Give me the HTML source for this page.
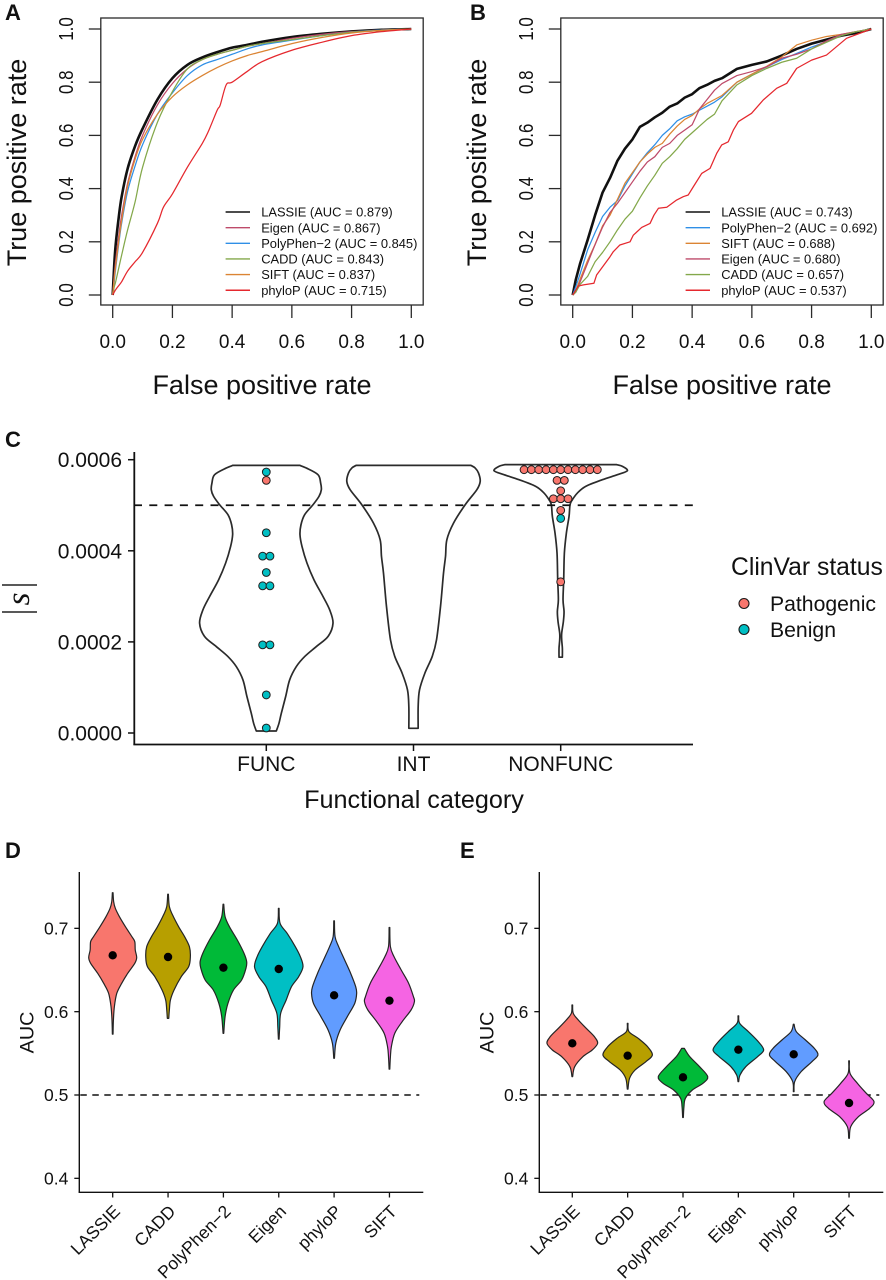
<!DOCTYPE html>
<html lang="en">
<head>
<meta charset="utf-8">
<title>Variant effect prediction ROC and AUC panels</title>
<style>
html,body{margin:0;padding:0;background:#fff;width:886px;height:1280px;overflow:hidden}
svg{display:block;font-family:"Liberation Sans",sans-serif;fill:#111}
</style>
</head>
<body>
<svg id="figure" width="886" height="1280" viewBox="0 0 886 1280" xmlns="http://www.w3.org/2000/svg">
  <text x="5" y="20" font-size="22" font-weight="bold">A</text>
  <text x="470" y="20" font-size="22" font-weight="bold">B</text>
  <text x="5" y="447" font-size="22" font-weight="bold">C</text>
  <text x="5" y="858" font-size="22" font-weight="bold">D</text>
  <text x="460" y="858" font-size="22" font-weight="bold">E</text>

  <text x="262" y="394" font-size="27" text-anchor="middle">False positive rate</text>
  <text transform="translate(26,162.5) rotate(-90)" font-size="27" text-anchor="middle">True positive rate</text>
  <text x="722" y="394" font-size="27" text-anchor="middle">False positive rate</text>
  <text transform="translate(486,162.5) rotate(-90)" font-size="27" text-anchor="middle">True positive rate</text>

  <text x="414" y="808" font-size="25.2" text-anchor="middle">Functional category</text>
  <g>
    <line x1="2" x2="37" y1="585" y2="585" stroke="#222" stroke-width="1.5"/>
    <line x1="2" x2="37" y1="612" y2="612" stroke="#222" stroke-width="1.5"/>
    <text transform="translate(29,599) rotate(-90)" font-family="'Liberation Serif',serif" font-style="italic" font-size="33" text-anchor="middle">s</text>
  </g>
  <text x="731" y="575" font-size="24.7">ClinVar status</text>
  <circle cx="744" cy="603.5" r="5" fill="#F8766D" stroke="#1a1a1a" stroke-width="1.1"/>
  <text x="770" y="611" font-size="21.2">Pathogenic</text>
  <circle cx="744" cy="629.5" r="5" fill="#00BFC4" stroke="#1a1a1a" stroke-width="1.1"/>
  <text x="770" y="637" font-size="21.2">Benign</text>

  <text transform="translate(33.5,1032.5) rotate(-90)" font-size="19.8" text-anchor="middle">AUC</text>
  <text transform="translate(493.5,1032.5) rotate(-90)" font-size="19.8" text-anchor="middle">AUC</text>
</svg>

<script>
/* ---------- Panel A data ---------- */
const rocTicks = [0, 0.2, 0.4, 0.6, 0.8, 1];
const rocTickLabels = ['0.0', '0.2', '0.4', '0.6', '0.8', '1.0'];
const fprA = [0,.005,.01,.02,.03,.05,.075,.1,.15,.2,.25,.3,.35,.4,.45,.5,.6,.7,.8,.9,1];
const tprALassie = [0,.11,.19,.29,.37,.475,.56,.625,.735,.815,.865,.893,.913,.93,.94,.952,.97,.982,.991,.997,1];
const tprAEigen = [0,.07,.13,.22,.30,.42,.52,.60,.715,.795,.85,.885,.905,.92,.935,.945,.965,.98,.99,.996,1];
const tprAPolyPhen = [0,.05,.10,.19,.27,.39,.485,.565,.68,.76,.825,.865,.885,.905,.925,.94,.958,.975,.988,.996,1];
const tprACadd = [0,.03,.05,.10,.15,.245,.35,.48,.65,.765,.85,.885,.905,.92,.935,.945,.96,.975,.988,.995,1];
const tprASift = [0,.06,.11,.20,.28,.41,.51,.585,.68,.745,.79,.825,.855,.88,.90,.915,.945,.968,.985,.995,1];
const fprAPhyloP = [0,.01,.02,.03,.05,.075,.1,.15,.17,.2,.25,.3,.32,.35,.36,.38,.4,.45,.5,.6,.7,.8,.9,1];
const tprAPhyloP = [0,.02,.035,.05,.09,.125,.16,.27,.33,.38,.48,.57,.614,.695,.714,.79,.80,.84,.877,.92,.95,.975,.99,1];
const legendALabels = ['LASSIE (AUC = 0.879)', 'Eigen (AUC = 0.867)', 'PolyPhen\u22122 (AUC = 0.845)', 'CADD (AUC = 0.843)', 'SIFT (AUC = 0.837)', 'phyloP (AUC = 0.715)'];

/* ---------- Panel B data ---------- */
const fprB = [0,.01,.025,.05,.075,.1,.125,.15,.175,.2,.225,.25,.275,.3,.325,.35,.375,.4,.425,.45,.475,.5,.55,.6,.65,.7,.75,.8,.85,.9,.95,1];
const tprBLassie = [0,.056,.119,.207,.30,.385,.44,.505,.55,.585,.632,.648,.668,.685,.708,.72,.742,.755,.778,.79,.805,.815,.85,.865,.878,.9,.925,.945,.96,.975,.985,1];
const tprBPolyPhen = [0,.03,.08,.17,.235,.295,.33,.355,.41,.455,.50,.535,.565,.60,.625,.655,.67,.68,.695,.71,.725,.745,.80,.83,.858,.885,.908,.932,.952,.978,.99,1];
const tprBSift = [0,.015,.06,.13,.19,.26,.30,.36,.42,.46,.50,.53,.555,.57,.605,.635,.66,.675,.70,.72,.735,.75,.80,.83,.86,.895,.94,.958,.972,.98,.99,1];
const tprBEigen = [0,.01,.05,.12,.19,.255,.31,.345,.385,.425,.465,.50,.52,.555,.57,.60,.62,.64,.70,.735,.77,.795,.825,.84,.858,.89,.905,.925,.955,.98,.99,1];
const tprBCadd = [0,.01,.04,.07,.125,.16,.20,.245,.285,.315,.365,.41,.45,.495,.52,.55,.585,.61,.635,.66,.68,.73,.79,.825,.852,.875,.89,.925,.95,.975,.99,1];
const fprBPhyloP = [0,.019,.036,.071,.08,.125,.136,.158,.192,.203,.231,.259,.272,.287,.315,.348,.371,.387,.404,.432,.46,.482,.499,.521,.538,.555,.599,.638,.683,.717,.75,.80,.85,.917,.962,1];
const tprBPhyloP = [0,.034,.038,.044,.075,.144,.163,.188,.2,.225,.254,.269,.30,.326,.33,.357,.37,.376,.407,.457,.476,.532,.564,.576,.62,.652,.683,.733,.777,.796,.852,.883,.902,.965,.984,1];
const legendBLabels = ['LASSIE (AUC = 0.743)', 'PolyPhen\u22122 (AUC = 0.692)', 'SIFT (AUC = 0.688)', 'Eigen (AUC = 0.680)', 'CADD (AUC = 0.657)', 'phyloP (AUC = 0.537)'];

/* ---------- Panel C data (|s| values in units of 1e-4) ---------- */
const cCategories = ['FUNC', 'INT', 'NONFUNC'];
const cTicks = [0, 2, 4, 6];
const cTickLabels = ['0.0000', '0.0002', '0.0004', '0.0006'];
const cThreshold = 5;
const funcS = [5.876,5.817,5.671,5.488,5.341,5.195,5.011,4.792,4.572,4.352,4.096,3.729,3.363,2.997,2.704,2.411,2.118,1.898,1.678,1.458,1.165,.799,.433,.213,.044];
const funcDensity = [.5,.6,.775,.815,.825,.79,.7,.575,.52,.505,.535,.61,.715,.85,.95,1,.925,.75,.575,.45,.35,.29,.225,.19,.15];
const intS = [5.876,5.817,5.707,5.524,5.341,5.011,4.608,4.242,3.876,3.51,2.777,2.044,1.678,1.312,.945,.579,.103];
const intDensity = [.86,.925,.975,1,.95,.775,.6,.5,.48,.45,.405,.345,.28,.17,.09,.07,.07];
const nonfuncS = [5.891,5.854,5.759,5.671,5.561,5.414,5.268,5.121,5.011,4.755,4.389,3.949,3.363,2.923,2.667,2.447,2.191,2.044,1.861,1.664];
const nonfuncDensity = [.84,.925,1,.85,.625,.375,.25,.175,.14,.125,.085,.055,.045,.035,.05,.04,.015,.015,.025,.025];
const funcDotS = [5.729,5.546,4.396,3.883,3.883,3.524,3.231,3.231,1.934,1.934,.836,.11];
const funcDotStatus = ['B','P','B','B','B','B','B','B','B','B','B','B'];
const nonfuncDotS = [5.781,5.781,5.781,5.781,5.781,5.781,5.781,5.781,5.781,5.781,5.781,5.546,5.546,5.319,5.143,5.143,5.143,4.887,4.711,3.319];
const nonfuncDotStatus = ['P','P','P','P','P','P','P','P','P','P','P','P','P','P','P','P','P','P','B','P'];

/* ---------- Panels D / E data ---------- */
const aucCategories = ['LASSIE', 'CADD', 'PolyPhen\u22122', 'Eigen', 'phyloP', 'SIFT'];
const aucTicks = [0.4, 0.5, 0.6, 0.7];
const aucTickLabels = ['0.4', '0.5', '0.6', '0.7'];
const aucReference = 0.5;
const dMeans = [.6676,.6656,.6528,.6512,.6196,.6132];
const dAuc = [
  [.7428,.732,.724,.714,.702,.690,.684,.674,.665,.658,.646,.634,.622,.606,.590,.573],
  [.741,.726,.716,.702,.690,.678,.666,.654,.642,.626,.614,.602,.592],
  [.729,.714,.702,.686,.670,.660,.652,.638,.626,.610,.594,.574],
  [.724,.706,.694,.678,.666,.654,.642,.630,.614,.598,.582,.567],
  [.709,.690,.678,.662,.646,.630,.622,.610,.594,.578,.562,.544],
  [.701,.678,.666,.650,.634,.618,.612,.602,.588,.574,.558,.546,.531]
];
const dDensity = [
  [.014,.04,.11,.28,.53,.8,.92,.94,1,.92,.625,.375,.17,.07,.03,.014],
  [.014,.055,.19,.44,.69,.89,.93,.86,.55,.25,.1,.055,.03],
  [.014,.07,.25,.58,.86,.97,.94,.76,.42,.19,.07,.014],
  [.014,.055,.35,.69,.9,1.01,.83,.53,.31,.08,.04,.014],
  [.014,.04,.19,.44,.69,.9,.94,.86,.55,.25,.07,.014],
  [.014,.04,.19,.49,.8,1,1.04,.9,.53,.22,.08,.04,.014]
];
const eMeans = [.562,.5472,.5212,.5544,.5488,.4904];
const eAuc = [
  [.608,.598,.590,.580,.570,.562,.554,.546,.534,.522],
  [.586,.576,.568,.558,.548,.54,.53,.52,.507],
  [.556,.546,.534,.522,.514,.506,.496,.486,.473],
  [.595,.586,.576,.564,.554,.546,.534,.524,.516],
  [.585,.576,.566,.556,.548,.540,.528,.516,.504],
  [.541,.526,.514,.502,.492,.484,.474,.462,.448]
];
const eDensity = [
  [.014,.04,.25,.58,.92,1.055,.83,.44,.1,.014],
  [.014,.055,.44,.83,1.03,.76,.31,.08,.014],
  [.055,.28,.69,1.03,.83,.39,.1,.04,.014],
  [.014,.055,.42,.83,1.055,.8,.31,.07,.014],
  [.014,.11,.49,.86,1.01,.76,.31,.04,.014],
  [.014,.04,.35,.72,1.04,.86,.39,.07,.014]
];

/* ---------- Styles ---------- */
const rocColorA = ['#111111', '#BE4A6A', '#2F8FE6', '#83A84A', '#DB8433', '#E5282E'];
const rocColorB = ['#111111', '#2F8FE6', '#DB8433', '#BE4A6A', '#83A84A', '#E5282E'];
const violinFill = ['#F8766D', '#B79F00', '#00BA38', '#00BFC4', '#619CFF', '#F564E3'];
const dotFill = { P: '#F8766D', B: '#00BFC4' };
const svgNS = 'http://www.w3.org/2000/svg';
const root = document.getElementById('figure');

function mk(tag, attrs, parent) {
  const node = document.createElementNS(svgNS, tag);
  for (const k in attrs) node.setAttribute(k, attrs[k]);
  (parent || root).appendChild(node);
  return node;
}
function smoothPath(pts, move) {
  let d = (move ? 'M' : 'L') + pts[0][0].toFixed(2) + ' ' + pts[0][1].toFixed(2);
  for (let i = 0; i < pts.length - 1; i++) {
    const p0 = pts[Math.max(i - 1, 0)], p1 = pts[i], p2 = pts[i + 1], p3 = pts[Math.min(i + 2, pts.length - 1)];
    const c1x = p1[0] + (p2[0] - p0[0]) / 6, c1y = p1[1] + (p2[1] - p0[1]) / 6;
    const c2x = p2[0] - (p3[0] - p1[0]) / 6, c2y = p2[1] - (p3[1] - p1[1]) / 6;
    d += 'C' + c1x.toFixed(2) + ' ' + c1y.toFixed(2) + ' ' + c2x.toFixed(2) + ' ' + c2y.toFixed(2) + ' ' + p2[0].toFixed(2) + ' ' + p2[1].toFixed(2);
  }
  return d;
}
function slug(s) {
  return s.toLowerCase().replace(/[^a-z0-9]+/g, '-').replace(/-+$/, '');
}

/* ---------- ROC panels ---------- */
function drawRoc(id, left, fprs, series, colors, labels, smooth) {
  const x = v => left + 11.9 + v * 298.6;
  const y = v => 295 - v * 266;
  const g = mk('g', {});
  
  
  const box = mk('rect', { x: left, y: 18, width: 322.4, height: 287, fill: 'none', stroke: '#2a2a2a', 'stroke-width': 1.3 }, g);
  
  
  rocTicks.forEach((t, i) => {
    const tx = mk('line', { x1: x(t), x2: x(t), y1: 305, y2: 318, stroke: '#2a2a2a', 'stroke-width': 1.3 }, g);
    
    
    const lx = mk('text', { x: x(t), y: 348, 'font-size': 19, 'text-anchor': 'middle' }, g);
    lx.textContent = rocTickLabels[i];
    
    
    const ty = mk('line', { x1: left - 12, x2: left, y1: y(t), y2: y(t), stroke: '#2a2a2a', 'stroke-width': 1.3 }, g);
    
    
    const ly = mk('text', { transform: 'translate(' + (left - 28) + ',' + y(t) + ') rotate(-90)', 'font-size': 20, 'text-anchor': 'middle', textLength: 23.5, lengthAdjust: 'spacingAndGlyphs' }, g);
    ly.textContent = rocTickLabels[i];
    
    
  });
  series.forEach((tpr, s) => {
    const fpr = fprs[s];
    const pts = tpr.map((v, i) => [x(fpr[i]), y(v)]);
    const d = smooth ? smoothPath(pts, true) : 'M' + pts.map(p => p[0].toFixed(2) + ' ' + p[1].toFixed(2)).join('L');
    const line = mk('path', { d: d, fill: 'none', stroke: colors[s], 'stroke-width': s === 0 ? 2.6 : 1.25, 'stroke-linejoin': 'round' }, g);
    
    
  });
  labels.forEach((text, i) => {
    const ly = 212 + i * 15.65;
    const key = mk('line', { x1: left + 124.8, x2: left + 149.2, y1: ly, y2: ly, stroke: colors[i], 'stroke-width': 1.4 }, g);
    
    
    const lab = mk('text', { x: left + 160.4, y: ly + 4.6, 'font-size': 12.9 }, g);
    lab.textContent = text;
    
    
  });
}
drawRoc('a', 100.8, [fprA, fprA, fprA, fprA, fprA, fprAPhyloP], [tprALassie, tprAEigen, tprAPolyPhen, tprACadd, tprASift, tprAPhyloP], rocColorA, legendALabels, true);
drawRoc('b', 560.8, [fprB, fprB, fprB, fprB, fprB, fprBPhyloP], [tprBLassie, tprBPolyPhen, tprBSift, tprBEigen, tprBCadd, tprBPhyloP], rocColorB, legendBLabels, false);

/* ---------- Panel C ---------- */
(function () {
  const x = i => 266.3 + i * 147.2;
  const y = v => 733 - v * 45.55;
  const widthScale = 66.7;
  const g = mk('g', {});
  
  

  const sets = [[funcS, funcDensity], [intS, intDensity], [nonfuncS, nonfuncDensity]];
  sets.forEach((set, c) => {
    const right = set[0].map((v, i) => [x(c) + set[1][i] * widthScale, y(v)]);
    const left = set[0].map((v, i) => [x(c) - set[1][i] * widthScale, y(v)]).reverse();
    const v = mk('path', { d: smoothPath(right, true) + smoothPath(left, false) + 'Z', fill: '#fff', stroke: '#2b2b2b', 'stroke-width': 1.7, 'stroke-linejoin': 'round' }, g);
    
    
  });

  const dash = mk('line', { x1: 134, x2: 695, y1: y(cThreshold), y2: y(cThreshold), stroke: '#111', 'stroke-width': 1.8, 'stroke-dasharray': '8 7.3' }, g);
  
  

  function drawDots(cat, values, status) {
    const counts = {};
    values.forEach(v => { counts[v] = (counts[v] || 0) + 1; });
    const seen = {};
    values.forEach((v, i) => {
      seen[v] = (seen[v] || 0) + 1;
      const off = (seen[v] - 1 - (counts[v] - 1) / 2) * 7.33;
      const d = mk('circle', { cx: x(cat) + off, cy: y(v), r: 3.9, fill: dotFill[status[i]], stroke: '#1f1f1f', 'stroke-width': 1 }, g);
      
      
    });
  }
  drawDots(0, funcDotS, funcDotStatus);
  drawDots(2, nonfuncDotS, nonfuncDotStatus);

  const axisY = mk('line', { x1: 134.3, x2: 134.3, y1: 452, y2: 745, stroke: '#111', 'stroke-width': 1.8 }, g);
  
  
  const axisX = mk('line', { x1: 133.4, x2: 693, y1: 744.5, y2: 744.5, stroke: '#111', 'stroke-width': 1.8 }, g);
  
  

  cTicks.forEach((t, i) => {
    const tk = mk('line', { x1: 128, x2: 134, y1: y(t), y2: y(t), stroke: '#111', 'stroke-width': 1.5 }, g);
    
    
    const lb = mk('text', { x: 122, y: y(t) + 7.5, 'font-size': 21, 'text-anchor': 'end' }, g);
    lb.textContent = cTickLabels[i];
    
    
  });
  cCategories.forEach((name, i) => {
    const tk = mk('line', { x1: x(i), x2: x(i), y1: 745, y2: 751, stroke: '#111', 'stroke-width': 1.5 }, g);
    
    
    const lb = mk('text', { x: x(i), y: 771, 'font-size': 21, 'text-anchor': 'middle' }, g);
    lb.textContent = name;
    
    
  });
})();

/* ---------- Panels D and E ---------- */
function drawAuc(id, axisLeft, firstCat, aucSets, densitySets, means) {
  const x = i => firstCat + i * 55.35;
  const y = v => 1095 - (v - 0.5) * 833.3;
  const widthScale = 24;
  const g = mk('g', {});
  
  

  const dash = mk('line', { x1: axisLeft + 1, x2: axisLeft + 340, y1: y(aucReference), y2: y(aucReference), stroke: '#111', 'stroke-width': 1.4, 'stroke-dasharray': '6.5 5.5' }, g);
  
  

  aucSets.forEach((set, c) => {
    const right = set.map((v, i) => [x(c) + densitySets[c][i] * widthScale, y(v)]);
    const left = set.map((v, i) => [x(c) - densitySets[c][i] * widthScale, y(v)]).reverse();
    const vio = mk('path', { d: smoothPath(right, true) + smoothPath(left, false) + 'Z', fill: violinFill[c], stroke: '#252525', 'stroke-width': 1.2, 'stroke-linejoin': 'round' }, g);
    
    
    const m = mk('circle', { cx: x(c), cy: y(means[c]), r: 4.2, fill: '#000' }, g);
    
    
  });

  const axisY = mk('line', { x1: axisLeft, x2: axisLeft, y1: 872, y2: 1192.5, stroke: '#111', 'stroke-width': 1.4 }, g);
  
  
  const axisX = mk('line', { x1: axisLeft - 0.7, x2: axisLeft + 344, y1: 1192.3, y2: 1192.3, stroke: '#111', 'stroke-width': 1.4 }, g);
  
  

  aucTicks.forEach((t, i) => {
    const tk = mk('line', { x1: axisLeft - 5, x2: axisLeft, y1: y(t), y2: y(t), stroke: '#111', 'stroke-width': 1.3 }, g);
    
    
    const lb = mk('text', { x: axisLeft - 11, y: y(t) + 6.2, 'font-size': 17.5, 'text-anchor': 'end' }, g);
    lb.textContent = aucTickLabels[i];
    
    
  });
  aucCategories.forEach((name, i) => {
    const tk = mk('line', { x1: x(i), x2: x(i), y1: 1192, y2: 1197.5, stroke: '#111', 'stroke-width': 1.3 }, g);
    
    
    const lb = mk('text', { transform: 'translate(' + (x(i) + 8.5) + ',1212.5) rotate(-45)', 'font-size': 17.5, 'text-anchor': 'end' }, g);
    lb.textContent = name;
    
    
  });
}
drawAuc('d', 79.3, 112.7, dAuc, dDensity, dMeans);
drawAuc('e', 539.3, 572.3, eAuc, eDensity, eMeans);
</script>
</body>
</html>
